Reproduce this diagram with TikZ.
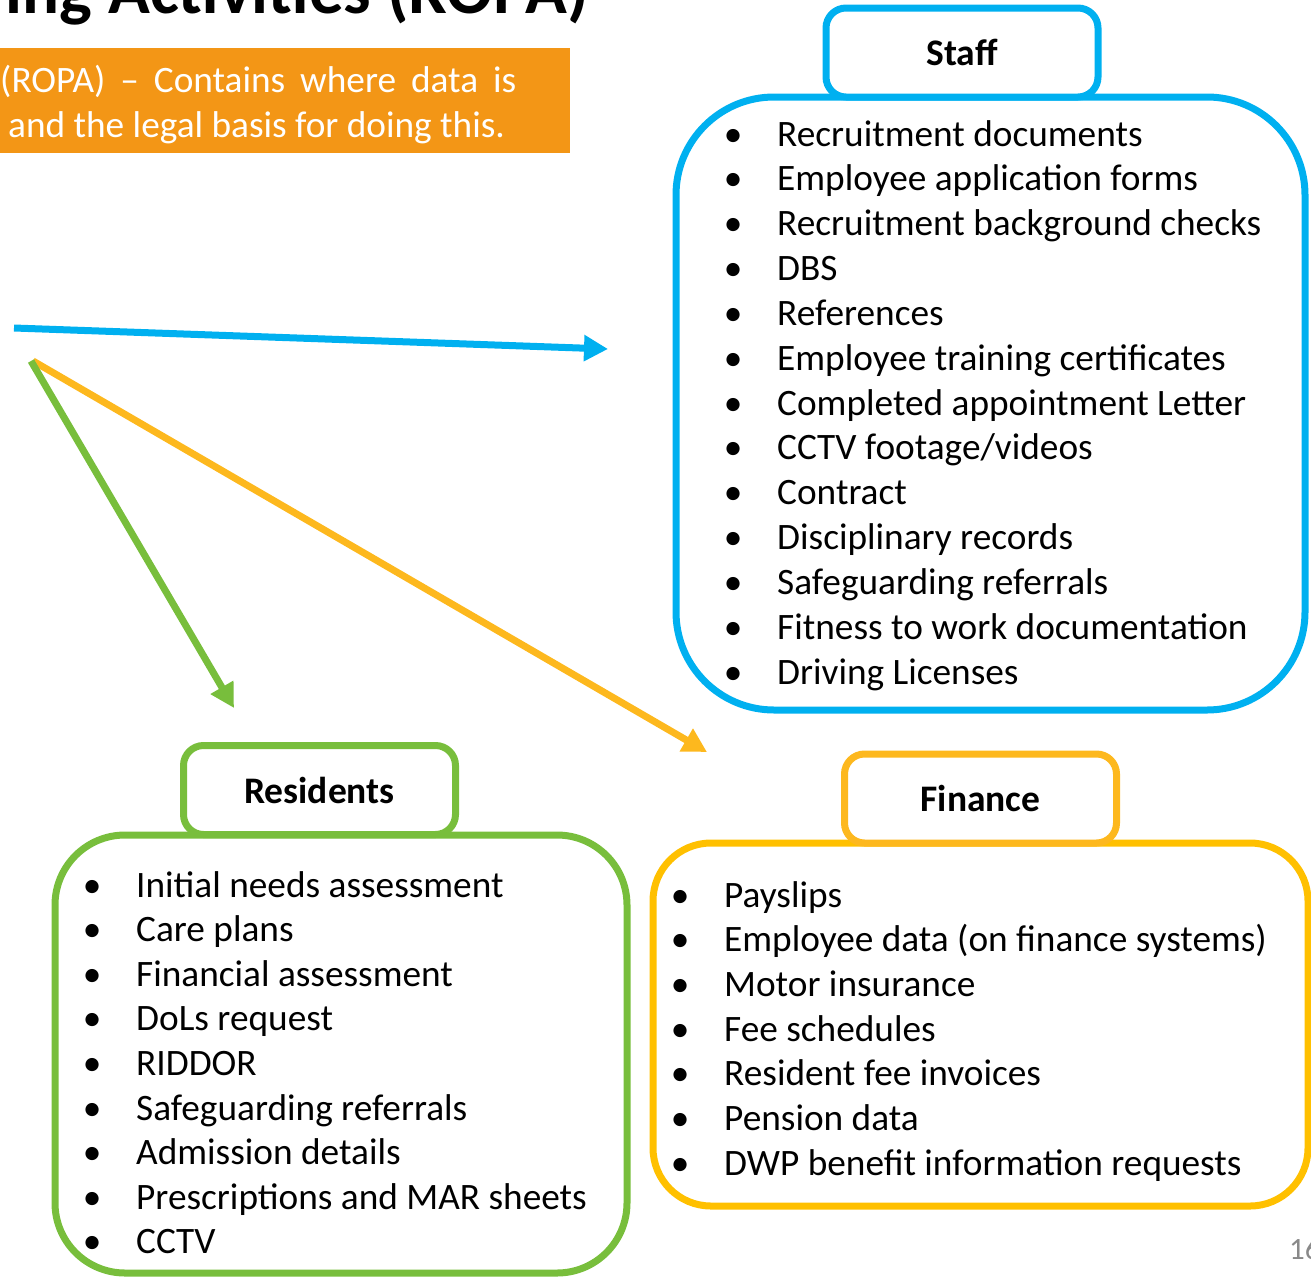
\documentclass[tikz,border=0pt]{standalone}
\usepackage{fontspec}
\setmainfont{Carlito}
\usetikzlibrary{arrows.meta}
\definecolor{staffblue}{RGB}{0,176,240}
\definecolor{resgreen}{RGB}{120,190,60}
\definecolor{fingold}{RGB}{255,192,0}
\definecolor{finhead}{RGB}{253,184,30}
\definecolor{notebg}{RGB}{243,150,22}
\definecolor{pagegray}{RGB}{137,137,137}
\newcommand{\bulitem}{\makebox[0pt]{\textbullet}\hspace{44pt}}
\begin{document}
\begin{tikzpicture}[x=1pt,y=-1pt,
  bodytext/.style={font=\fontsize{37.3}{44.8}\selectfont},
  mainbox/.style={draw, line width=7pt, fill=none, inner sep=0pt},
  headbox/.style={draw, line width=7pt, fill=white, rounded corners=20pt,
    minimum width=272pt, minimum height=89pt, inner sep=0pt,
    font=\bfseries\fontsize{37.5}{44.8}\selectfont},
  item/.style={bodytext, inner sep=0pt, anchor=base west},
  conn/.style={line width=7pt, -{Triangle[length=24pt,width=25pt]}}
]
\useasboundingbox (0,0) rectangle (1311,1277);

% title and note banner
\node[anchor=base east, inner sep=0pt, font=\bfseries\fontsize{69}{80}\selectfont] (title) at (589,13.5) {ing Activities (ROPA)};
\node[fill=notebg, anchor=north west, minimum width=575pt, minimum height=105pt, inner sep=0pt] (note) at (-5,48) {};
\node[item, text=white] (notea) at (0,92) {\makebox[516pt][s]{(ROPA) – Contains where data is}};
\node[item, text=white] (noteb) at (8,137) {and the legal basis for doing this.};

% Staff
\node[mainbox, draw=staffblue, rounded corners=98pt, minimum width=629pt, minimum height=613pt] (staffbox) at (990.5,403.5) {};
\node[headbox, draw=staffblue] (staffhd) at (962,52.5) {Staff};
\foreach \t [count=\i from 0] in {Recruitment documents, Employee application forms, Recruitment background checks, DBS, References, Employee training certificates, Completed appointment Letter, CCTV footage/videos, Contract, Disciplinary records, Safeguarding referrals, Fitness to work documentation, Driving Licenses}
  \node[item] (staff\i) at (733,{146+44.85*\i}) {\bulitem\t};

% Residents
\node[mainbox, draw=resgreen, rounded corners=70pt, minimum width=572pt, minimum height=438pt] (resbox) at (341,1054) {};
\node[headbox, draw=resgreen] (reshd) at (319.5,790) {Residents};
\foreach \t [count=\i from 0] in {Initial needs assessment, Care plans, Financial assessment, DoLs request, RIDDOR, Safeguarding referrals, Admission details, Prescriptions and MAR sheets, CCTV}
  \node[item] (res\i) at (92,{897+44.6*\i}) {\bulitem\t};

% Finance
\node[mainbox, draw=fingold, rounded corners=58pt, minimum width=655pt, minimum height=363pt] (finbox) at (980.5,1024.5) {};
\node[headbox, draw=finhead] (finhd) at (980.5,798.5) {Finance};
\foreach \t [count=\i from 0] in {Payslips, Employee data (on finance systems), Motor insurance, Fee schedules, Resident fee invoices, Pension data, DWP benefit information requests}
  \node[item] (fin\i) at (680,{907+44.7*\i}) {\bulitem\t};

% connectors
\coordinate (srcstaff) at (14,328);
\coordinate (srcres) at (31,361);
\coordinate (srcfin) at (33,361);
\coordinate (tipstaff) at (608,349);
\coordinate (tipres) at (234,708);
\coordinate (tipfin) at (707,752);
\draw[conn, draw=finhead, fill=finhead] (srcfin) -- (tipfin);
\draw[conn, draw=resgreen, fill=resgreen] (srcres) -- (tipres);
\draw[conn, draw=staffblue, fill=staffblue] (srcstaff) -- (tipstaff);

% page number
\node[anchor=base west, inner sep=0pt, text=pagegray, font=\fontsize{31}{36}\selectfont] (pageno) at (1289,1259) {16};
\end{tikzpicture}
\end{document}
